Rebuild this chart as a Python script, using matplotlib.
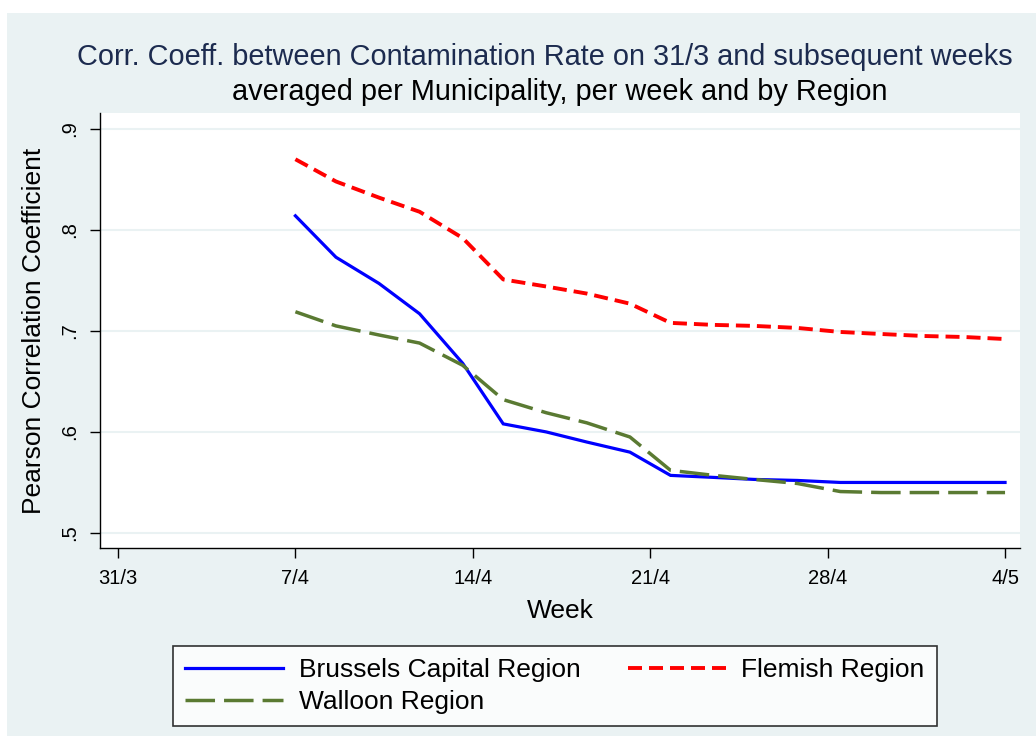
import matplotlib
matplotlib.use('Agg')
import matplotlib.pyplot as plt
from matplotlib.patches import Rectangle

plt.rcParams['font.family'] = ['Liberation Sans', 'DejaVu Sans']

# days since 31/3, one point every ~1.65 days
days = [7.0, 8.6, 10.3, 11.9, 13.6, 15.2, 16.9, 18.5, 20.2,
        21.8, 23.5, 25.1, 26.8, 28.5, 30.1, 31.8, 33.4, 35.0]

brussels = [.814, .773, .747, .717, .668, .608, .600, .590, .580,
            .557, .555, .553, .552, .550, .550, .550, .550, .550]
flemish = [.870, .848, .832, .818, .792, .751, .744, .737, .727,
           .708, .706, .705, .703, .699, .697, .695, .694, .692]
walloon = [.719, .705, .696, .688, .666, .632, .619, .609, .595,
           .562, .557, .553, .549, .541, .540, .540, .540, .540]

week_ticks = [0, 7, 14, 21, 28, 35]
week_labels = ['31/3', '7/4', '14/4', '21/4', '28/4', '4/5']
y_ticks = [.5, .6, .7, .8, .9]
y_labels = ['.5', '.6', '.7', '.8', '.9']

bg = '#eaf2f3'
fig = plt.figure(figsize=(10.36, 7.36), dpi=100, facecolor='white')
fig.patches.append(Rectangle((7/1036, 0), 1, 1 - 13/736, transform=fig.transFigure,
                             facecolor=bg, edgecolor='none', zorder=-10))

ax = fig.add_axes([100/1036, 1 - 548/736, 920/1036, 435/736])
ax.set_facecolor('white')

l1, = ax.plot(days, brussels, color='#0000ff', lw=2.3, label='Brussels Capital Region',
              solid_joinstyle='miter')
l2, = ax.plot(days, flemish, color='#ff0000', lw=2.8, ls=(0, (3.6, 1.8)),
              label='Flemish Region')
l3, = ax.plot(days, walloon, color='#5a7a32', lw=2.5, ls=(0, (8.5, 2.6)),
              label='Walloon Region')

ax.set_xlim(-0.71, 35.59)
ax.set_ylim(.4851, .9158)
ax.set_xticks(week_ticks)
ax.set_xticklabels(week_labels)
ax.set_yticks(y_ticks)
ax.set_yticklabels(y_labels, rotation=90, va='center')
ax.tick_params(axis='both', direction='out', length=7, width=1, labelsize=14.5, pad=8)
for yv in y_ticks:
    ax.axhline(yv, color=bg, lw=1.5, zorder=0)

for s in ['top', 'right']:
    ax.spines[s].set_visible(False)
ax.spines['left'].set_linewidth(1)
ax.spines['bottom'].set_linewidth(1)

ax.set_xlabel('Week', fontsize=19, labelpad=8)
ax.set_ylabel('Pearson Correlation Coefficient', fontsize=19, labelpad=10)

fig.text(545/1036, 1 - 57/736, 'Corr. Coeff. between Contamination Rate on 31/3 and subsequent weeks',
         ha='center', va='center', fontsize=20.8, color='#1c2b4f')
fig.text(560/1036, 1 - 92/736, 'averaged per Municipality, per week and by Region',
         ha='center', va='center', fontsize=20.8, color='black')

leg = fig.legend(handles=[l1, l3, l2], ncol=2, loc='center',
                 bbox_to_anchor=(555/1036, 1 - 686/736), fontsize=19,
                 frameon=True, fancybox=False, edgecolor='black', facecolor='white',
                 handlelength=3.7, columnspacing=1.8, labelspacing=0.3,
                 borderpad=0.45, handletextpad=0.6, borderaxespad=0)
leg.get_frame().set_linewidth(1.2)

fig.savefig('out.png', dpi=100, facecolor=fig.get_facecolor())
